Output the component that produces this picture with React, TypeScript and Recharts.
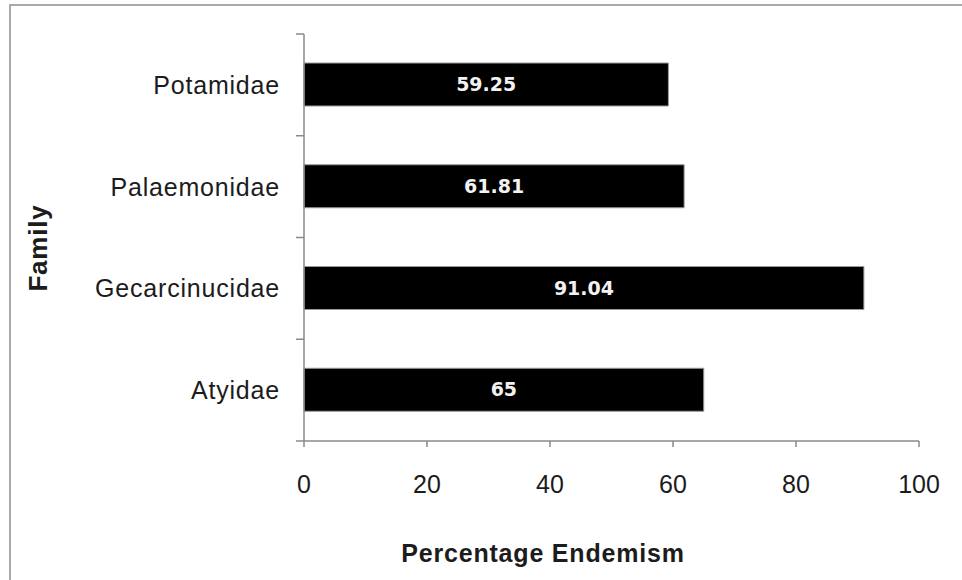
import React from 'react';
import { BarChart, Bar, XAxis, YAxis, LabelList, Label } from 'recharts';

const families = ['Potamidae', 'Palaemonidae', 'Gecarcinucidae', 'Atyidae'];
const endemism = [59.25, 61.81, 91.04, 65];
const xTicks = [0, 20, 40, 60, 80, 100];

const data = families.map((family, i) => ({ family, endemism: endemism[i] }));

const AXIS_GREY = '#8a8a8a';
const TEXT_DARK = '#1c1c1c';
const Y_TICK_SIZE = 8;
const Y_TICK_MARGIN = 16;

// Category ticks sit on band boundaries, labels in the band centre.
function FamilyTick(props: any) {
  const { x, y, payload, index, visibleTicksCount } = props;
  const half = payload && payload.offset ? payload.offset : 0;
  const axisX = x + Y_TICK_SIZE + Y_TICK_MARGIN;
  const isLast = index === (visibleTicksCount ?? families.length) - 1;
  return (
    <g>
      <line x1={axisX - Y_TICK_SIZE} x2={axisX} y1={y - half} y2={y - half} stroke={AXIS_GREY} strokeWidth={1.5} />
      {isLast && (
        <line x1={axisX - Y_TICK_SIZE} x2={axisX} y1={y + half} y2={y + half} stroke={AXIS_GREY} strokeWidth={1.5} />
      )}
      <text
        x={x}
        y={y}
        dy="0.36em"
        textAnchor="end"
        fill={TEXT_DARK}
        fontFamily="'Liberation Sans', Arial, sans-serif"
        fontSize={25}
        letterSpacing={0.8}
      >
        {payload.value}
      </text>
    </g>
  );
}

function XTitle() {
  return (
    <text
      x={543}
      y={562}
      textAnchor="middle"
      fill={TEXT_DARK}
      fontFamily="'Liberation Sans', Arial, sans-serif"
      fontWeight="bold"
      fontSize={25}
      letterSpacing={0.8}
    >
      Percentage Endemism
    </text>
  );
}

function YTitle() {
  return (
    <text
      x={47}
      y={248}
      transform="rotate(-90, 47, 248)"
      textAnchor="middle"
      fill={TEXT_DARK}
      fontFamily="'Liberation Sans', Arial, sans-serif"
      fontWeight="bold"
      fontSize={26}
      letterSpacing={0.8}
    >
      Family
    </text>
  );
}

export default function App() {
  return (
    <div
      style={{
        position: 'absolute',
        left: 0,
        top: 0,
        width: 962,
        height: 580,
        overflow: 'hidden',
        background: '#ffffff',
      }}
    >
      <div
        style={{
          position: 'absolute',
          left: 9,
          top: 4,
          width: 1000,
          height: 1000,
          border: '2px solid #a9a9a9',
          boxSizing: 'border-box',
        }}
      />
      <div style={{ position: 'absolute', left: 0, top: 0 }}>
        <BarChart
          width={962}
          height={580}
          data={data}
          layout="vertical"
          margin={{ top: 34, right: 43, bottom: 79, left: 0 }}
        >
          <XAxis
            type="number"
            domain={[0, 100]}
            ticks={xTicks}
            height={60}
            stroke={AXIS_GREY}
            strokeWidth={1.5}
            tickSize={6}
            tickMargin={28}
            tick={{ fill: TEXT_DARK, fontSize: 25, fontFamily: "'Liberation Sans', Arial, sans-serif" }}
          >
            <Label content={<XTitle />} />
          </XAxis>
          <YAxis
            type="category"
            dataKey="family"
            width={304}
            stroke={AXIS_GREY}
            strokeWidth={1.5}
            tickLine={false}
            tickSize={Y_TICK_SIZE}
            tickMargin={Y_TICK_MARGIN}
            tick={<FamilyTick />}
            interval={0}
          >
            <Label content={<YTitle />} />
          </YAxis>
          <Bar dataKey="endemism" fill="#000000" stroke="#9a9a9a" strokeWidth={1} barSize={43} isAnimationActive={false}>
            <LabelList
              dataKey="endemism"
              position="center"
              fill="#f2f2f2"
              fontFamily="'DejaVu Sans', Verdana, sans-serif"
              fontWeight="bold"
              fontSize={19}
            />
          </Bar>
        </BarChart>
      </div>
    </div>
  );
}
